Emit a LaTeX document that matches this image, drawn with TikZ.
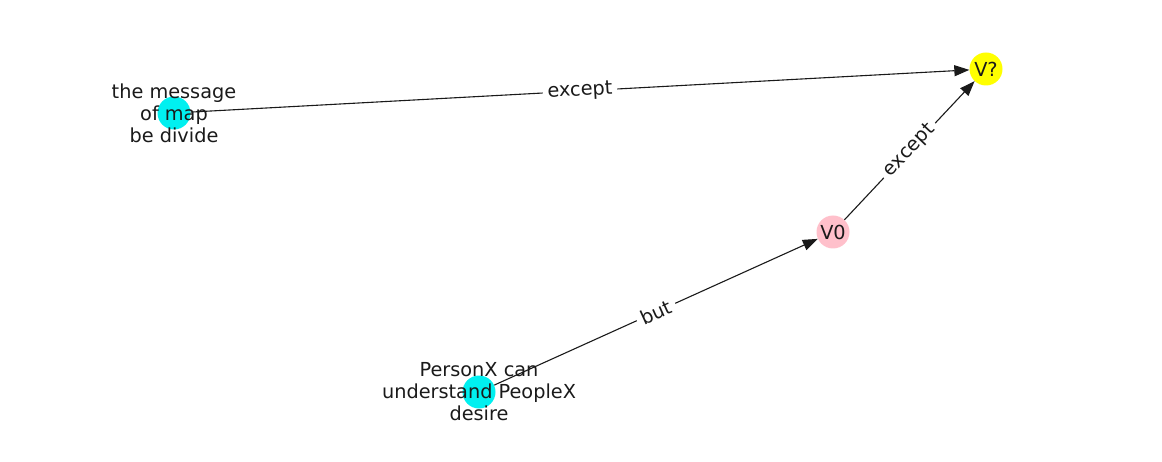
\documentclass[tikz,border=0pt]{standalone}
\usepackage{fontspec}
\setmainfont{DejaVu Sans}
\usetikzlibrary{arrows.meta}
\definecolor{txt}{HTML}{1A1A1A}
\definecolor{ncyan}{HTML}{00F0F0}
\definecolor{npink}{HTML}{FFC0CB}
\definecolor{nyellow}{HTML}{FFFF00}
\tikzset{
  dot/.style={circle, minimum size=33pt, inner sep=0pt, draw=none},
  lbl/.style={align=center, text=txt, inner sep=0pt, font=\fontsize{19.3}{22}\selectfont},
  edge/.style={draw=txt, line width=1.1pt, -{Triangle[length=15pt,width=11pt]}, shorten >=0pt},
  elabel/.style={fill=white, rounded corners=3pt, inner sep=5pt, text=txt, font=\fontsize{19.3}{22}\selectfont, sloped}
}
\begin{document}
\begin{tikzpicture}[x=1pt, y=-1pt]
\useasboundingbox (0,0) rectangle (1162,462);
\node[dot, fill=ncyan] (a) at (174,113) {};
\node[dot, fill=nyellow] (q) at (986,69) {};
\node[dot, fill=npink] (v) at (833,232) {};
\node[dot, fill=ncyan] (p) at (479,392) {};
\draw[edge] (a) -- node[elabel, pos=0.5] (la) {except} (q);
\draw[edge] (v) -- node[elabel, pos=0.5] (lv) {except} (q);
\draw[edge] (p) -- node[elabel, pos=0.5] (lp) {but} (v);
\node[lbl] (ta) at (174,113) {the message\\of map\\be divide};
\node[lbl] (tq) at (986,69) {V?};
\node[lbl] (tv) at (833,232) {V0};
\node[lbl] (tp) at (479,392) {PersonX can\\understand PeopleX\\desire};
\end{tikzpicture}
\end{document}
